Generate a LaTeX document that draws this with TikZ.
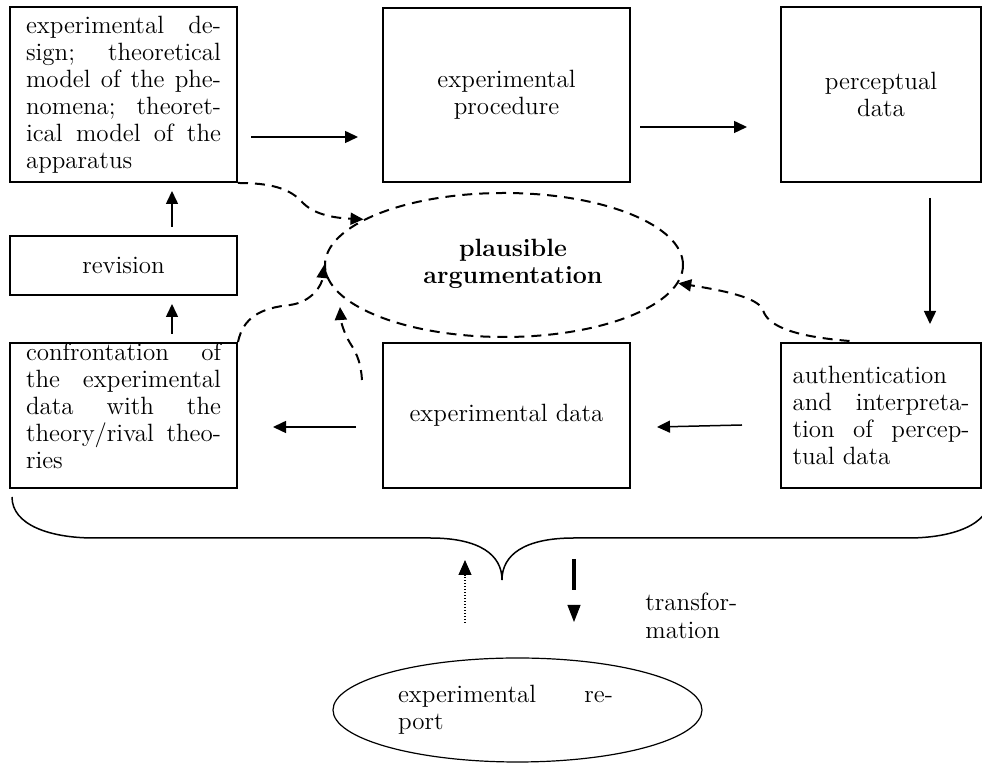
\documentclass[tikz,border=0pt]{standalone}
\usetikzlibrary{shapes.geometric,arrows.meta,calc}
\newcommand\jl[1]{\makebox[\hsize][s]{#1}\par}
\begin{document}
\begin{tikzpicture}[x=0.5pt,y=-0.5pt,
  every node/.style={font=\fontsize{12.5}{13.5}\selectfont},
  box/.style={draw,line width=1pt,inner sep=0pt,align=center},
  arr/.style={line width=0.75pt,-{Triangle[length=6.5pt,width=6pt]}},
  dsh/.style={line width=1pt,dash pattern=on 5pt off 3.5pt,-{Triangle[length=6.5pt,width=6pt]}},
  brace/.style={line width=0.75pt},
]
\useasboundingbox (0,0) rectangle (982,763);

% boxes
\node[box,minimum width=113.5pt,minimum height=87.5pt] (b1) at (123.5,94.5)
  {\parbox{97.5pt}{\jl{experimental de-}\jl{sign; theoretical}\jl{model of the phe-}\jl{nomena; theoret-}\jl{ical model of the}apparatus}};
\node[box,minimum width=123.5pt,minimum height=87pt] (b2) at (506.5,95) {experimental\\procedure};
\node[box,minimum width=100pt,minimum height=87.5pt] (b3) at (881,94.5) {perceptual\\data};
\node[box,minimum width=113.5pt,minimum height=29.5pt] (rev) at (123.5,265.5) {revision};
\node[box,minimum width=113.5pt,minimum height=72.5pt] (conf) at (123.5,415.5)
  {\parbox[c][72.5pt][t]{97.5pt}{\jl{confrontation of}\jl{the experimental}\jl{data with the}\jl{theory/rival theo-}ries}};
\node[box,minimum width=123.5pt,minimum height=72.5pt] (data) at (506.5,415.5) {experimental data};
\node[box,minimum width=100pt,minimum height=72.5pt] (auth) at (881,415.5)
  {\parbox{88.5pt}{authentication\par\jl{and interpreta-}\jl{tion of percep-}tual data}};

% ellipses
\node[draw,ellipse,line width=1pt,dash pattern=on 5pt off 3.5pt,inner sep=0pt,
      minimum width=179pt,minimum height=72pt] (pa) at (504,265)
  {\hspace*{9pt}\begin{tabular}{@{}c@{}}\bfseries plausible\\\bfseries argumentation\end{tabular}};
\node[draw,ellipse,line width=0.6pt,inner sep=0pt,
      minimum width=184.5pt,minimum height=52pt] (rep) at (517.5,710)
  {\parbox{107.5pt}{\jl{experimental re-}port}\hspace*{12pt}};

\node[anchor=west,align=left,inner sep=0pt,font=\fontsize{12.5}{14}\selectfont] (tf) at (645,616) {transfor-\\mation};

% solid arrows
\draw[arr] ([shift={(13,42.5)}]b1.east) -- ([shift={(-24,42)}]b2.west);
\draw[arr] ([shift={(9,32)}]b2.east) -- ([shift={(-33,32.5)}]b3.west);
\draw[arr] ([shift={(49,15)}]b3.south) -- ([shift={(49,-18)}]auth.north);
\draw[arr] ([shift={(-38,9.5)}]auth.west) -- ([shift={(26,11.5)}]data.east);
\draw[arr] ([shift={(-26,11.5)}]data.west) -- ([shift={(35,11.5)}]conf.east);
\draw[arr] ([shift={(48.5,-8)}]conf.north) -- ([shift={(48.5,8)}]rev.south);
\draw[arr] ([shift={(48.5,-8)}]rev.north) -- ([shift={(48.5,8)}]b1.south);

% dashed arrows
\draw[dsh] (b1.south east) .. controls (270,183) and (290,188) .. (303,203)
  .. controls (315,215) and (335,218) .. (pa.162);
\draw[dsh] (conf.north east) .. controls (243,318) and (260,308) .. (290,305)
  .. controls (312,302) and (322,285) .. (pa.west);
\coordinate (d3s) at (362,380);
\coordinate (d3e) at (340,307);
\draw[dsh] (d3s) .. controls (361,365) and (358,355) .. (350,343)
  .. controls (344,333) and (341,322) .. (d3e);
\draw[dsh] ([shift={(-31.5,-1)}]auth.north) .. controls (800,337) and (768,328) .. (763,310)
  .. controls (758,297) and (720,290) .. (pa.-6);

% brace
\coordinate (brL) at (12,497);
\coordinate (brT) at (502,580);
\coordinate (brR) at (990,497);
\draw[brace] (brL) .. controls (12,525) and (50,538) .. (94,538) -- (430,538)
  .. controls (480,538) and (502,555) .. (brT);
\draw[brace] (brT) .. controls (502,555) and (524,538) .. (574,538) -- (908,538)
  .. controls (952,538) and (990,525) .. (brR);

% dotted arrow up
\coordinate (dt1) at (465,623);
\coordinate (dt2) at (465,560);
\draw[line width=0.6pt,dash pattern=on 0.6pt off 0.9pt,-{Triangle[length=7.5pt,width=6.5pt]}] (dt1) -- (dt2);

% transformation arrow down
\coordinate (tr1) at (574,559);
\coordinate (tr2) at (574,590);
\coordinate (tr3) at (574,605);
\coordinate (tr4) at (574,622);
\draw[line width=1.6pt] (tr1) -- (tr2);
\draw[line width=0.5pt,-{Triangle[length=8.5pt,width=6.5pt]}] (tr3) -- (tr4);
\end{tikzpicture}
\end{document}
